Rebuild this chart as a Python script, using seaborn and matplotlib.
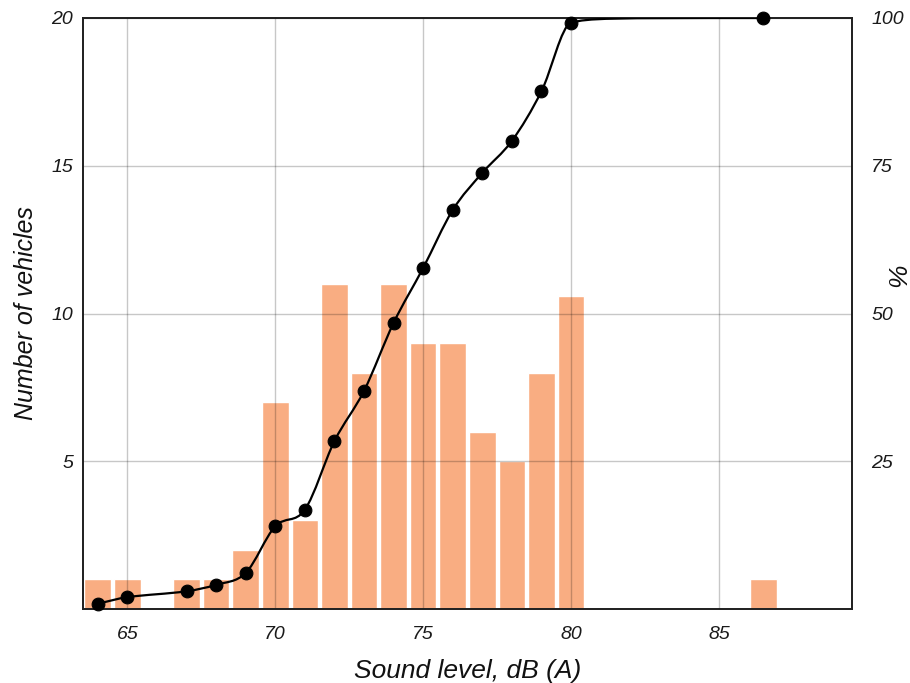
import matplotlib
matplotlib.use("Agg")
import matplotlib.pyplot as plt
from matplotlib.path import Path
from matplotlib.patches import PathPatch
import seaborn as sns
import pandas as pd

# ---- data ----
sound_levels = [64, 65, 67, 68, 69, 70, 71, 72, 73, 74, 75, 76, 77, 78, 79, 80, 86.5]
vehicle_counts = [1, 1, 1, 1, 2, 7, 3, 11, 8, 11, 9, 9, 6, 5, 8, 10.6, 1]
cumulative_pct = [0.9, 2.0, 3.0, 4.1, 6.1, 14.0, 16.8, 28.4, 36.9, 48.4, 57.7,
                  67.5, 73.8, 79.2, 87.6, 99.2, 100.0]
x_ticks = [65, 70, 75, 80, 85]
left_ticks = [5, 10, 15, 20]
right_ticks = [25, 50, 75, 100]

sns.set_theme(style="white")
plt.rcParams['font.family'] = ['Liberation Sans', 'DejaVu Sans']

df = pd.DataFrame({"level": sound_levels, "count": vehicle_counts, "pct": cumulative_pct})

fig = plt.figure(figsize=(9.1, 6.83), dpi=100)
ax = fig.add_axes([83 / 910, 1 - 609 / 683, (852 - 83) / 910, (609 - 18) / 683])

sns.barplot(data=df, x="level", y="count", native_scale=True, width=0.9,
            color="#F9AD82", saturation=1, ax=ax, zorder=1)

ax.set_xlim(63.5, 89.5)
ax.set_ylim(0, 20)
ax.set_xticks(x_ticks)
ax.set_yticks(left_ticks)
ax.grid(True, color="black", alpha=0.22, linewidth=1.0)
ax.set_axisbelow(False)
for t in ax.get_xticklabels() + ax.get_yticklabels():
    t.set_fontstyle("italic")
ax.tick_params(axis="both", length=0, labelsize=14, colors="#1a1a1a")
ax.tick_params(axis="x", pad=12)
ax.tick_params(axis="y", pad=7)
ax.set_xlabel("Sound level, dB (A)", fontsize=19, fontstyle="italic", labelpad=12, color="#111111")
ax.set_ylabel("Number of vehicles", fontsize=18, fontstyle="italic", labelpad=10, color="#111111")
for s in ax.spines.values():
    s.set_color("#222222")
    s.set_linewidth(1.3)

ax2 = ax.twinx()
ax2.set_ylim(0, 100)
ax2.set_yticks(right_ticks)

# smooth cumulative curve (cubic Hermite rendered as Bezier path)
xs = list(df["level"])
ys = list(df["pct"])
n = len(xs)
slopes = []
for i in range(n):
    if i == 0:
        slopes.append((ys[1] - ys[0]) / (xs[1] - xs[0]))
    elif i == n - 1:
        slopes.append(0.0)
    else:
        slopes.append((ys[i + 1] - ys[i - 1]) / (xs[i + 1] - xs[i - 1]))
verts = [(xs[0], ys[0])]
codes = [Path.MOVETO]
for i in range(n - 1):
    dx = xs[i + 1] - xs[i]
    c1 = (xs[i] + dx / 3, min(100, ys[i] + slopes[i] * dx / 3))
    c2 = (xs[i + 1] - dx / 3, min(100, ys[i + 1] - slopes[i + 1] * dx / 3))
    if dx > 2:
        c1 = (xs[i] + 0.6, min(100, ys[i] + slopes[i] * 0.6))
        c2 = (xs[i] + 1.2, 100)
    verts += [c1, c2, (xs[i + 1], ys[i + 1])]
    codes += [Path.CURVE4, Path.CURVE4, Path.CURVE4]
ax2.add_patch(PathPatch(Path(verts, codes), facecolor="none", edgecolor="black",
                        linewidth=1.6, zorder=3))
sns.scatterplot(data=df, x="level", y="pct", ax=ax2, color="black", s=85,
                edgecolor="black", zorder=4, clip_on=False)

ax2.set_xlim(63.5, 89.5)
ax2.set_ylabel("")
ax2.tick_params(axis="y", length=0, labelsize=14, pad=14, colors="#1a1a1a")
for t in ax2.get_yticklabels():
    t.set_fontstyle("italic")
ax2.grid(False)
for s in ax2.spines.values():
    s.set_color("#222222")
    s.set_linewidth(1.3)

fig.text(899 / 910, 1 - 275 / 683, "%", fontsize=19, fontstyle="italic", color="#111111",
         rotation=90, ha="center", va="center")

fig.savefig("out.png", dpi=100)
